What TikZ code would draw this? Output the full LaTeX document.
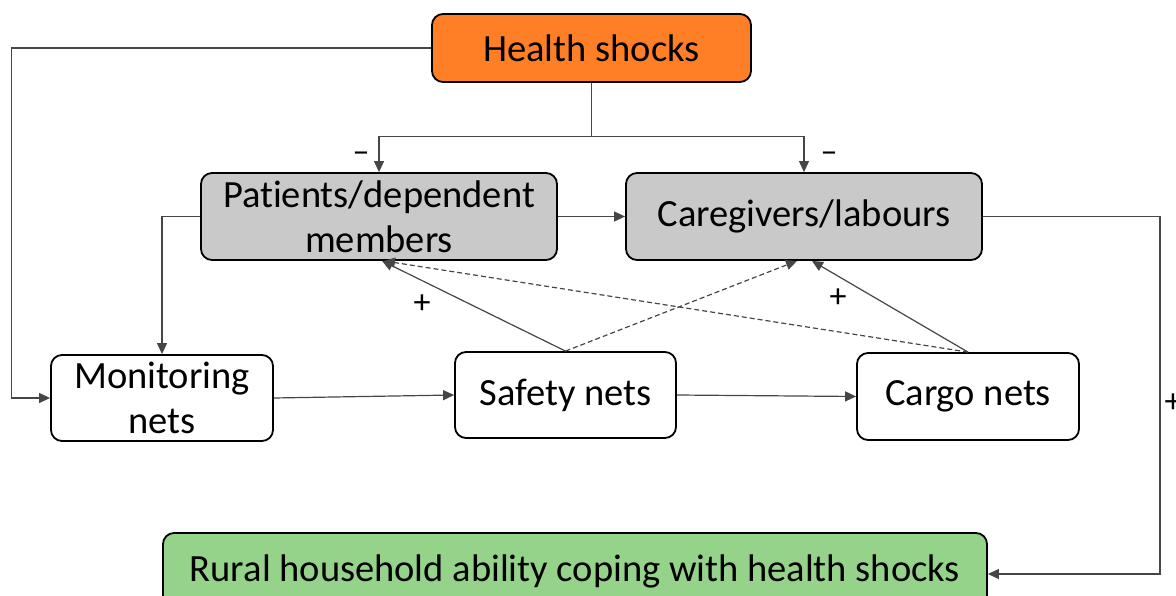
\documentclass[tikz,border=0pt]{standalone}
\usepackage{fontspec}
\setmainfont[Ligatures=NoCommon, RawFeature={-liga;-calt;-dlig}]{Carlito}
\usepackage{xcolor}
\usepackage{tikz}
\usetikzlibrary{arrows.meta, calc}

\definecolor{shockorange}{RGB}{255,127,39}
\definecolor{membergray}{RGB}{201,201,201}
\definecolor{copegreen}{RGB}{149,210,138}
\definecolor{linkgray}{RGB}{70,70,70}

\tikzset{
    box/.style={draw=black, line width=1.8pt, rounded corners=11pt, align=center,
        inner sep=0pt, font=\fontsize{38.5}{45}\selectfont},
    link/.style={draw=linkgray, line width=1.2pt, -{Triangle[length=11pt, width=10pt]}},
    weak/.style={link, dashed, dash pattern=on 5pt off 3pt},
    sign/.style={font=\fontsize{34}{40}\selectfont, inner sep=0pt}
}

\begin{document}
\begin{tikzpicture}[x=1pt, y=-1pt]
    \useasboundingbox (0,0) rectangle (1176,596);

    \node[box, fill=shockorange, minimum width=319pt, minimum height=68pt] (health) at (591.5,48) {Health shocks};
    \node[box, fill=membergray, minimum width=356pt, minimum height=87pt] (patients) at (379,216.5) {Patients/dependent\\members};
    \node[box, fill=membergray, minimum width=356pt, minimum height=87pt] (caregivers) at (804,216.5) {Caregivers/labours};
    \node[box, minimum width=222pt, minimum height=86pt] (monitoring) at (162,398) {Monitoring\\nets};
    \node[box, minimum width=221pt, minimum height=86pt] (safety) at (565.5,395) {Safety nets};
    \node[box, minimum width=222pt, minimum height=87pt] (cargo) at (968,396.5) {Cargo nets};
    \node[box, fill=copegreen, minimum width=824pt, minimum height=76pt] (rural) at (575,571) {Rural household ability coping with health shocks};

    \coordinate (split) at ($(health.south)+(0,54)$);
    \draw[linkgray, line width=1.2pt] (health.south) -- (split);
    \draw[link] (split) -| (patients.north);
    \draw[link] (split) -| (caregivers.north);
    \draw[link] (health.west) -- ++(-420,0) |- (monitoring.west);
    \draw[link] (patients.west) -| (monitoring.north);
    \draw[link] (patients.east) -- (caregivers.west);
    \draw[link] (caregivers.east) -- ++(177,0) |- ([yshift=-3pt]rural.east);
    \draw[link] (monitoring.east) -- (safety.west);
    \draw[link] (safety.east) -- (cargo.west);

    \draw[link] (safety.north) -- ([xshift=3pt]patients.south);
    \draw[weak] (safety.north) -- ([xshift=-7pt]caregivers.south);
    \draw[link] (cargo.north) -- ([xshift=8pt]caregivers.south);
    \draw[weak] (cargo.north) -- ([xshift=5pt]patients.south);

    \node[sign] (minusP) at (361,157) {–};
    \node[sign] (minusC) at (829,157) {–};
    \node[sign] (plusP) at (422,304) {+};
    \node[sign] (plusC) at (838,298) {+};
    \node[sign] (plusR) at (1173,403) {+};
\end{tikzpicture}
\end{document}
